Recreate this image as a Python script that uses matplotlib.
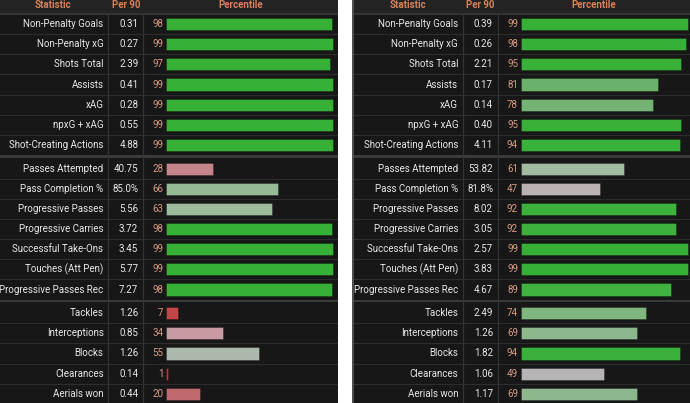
import matplotlib
matplotlib.use("Agg")
import matplotlib.pyplot as plt
from matplotlib.colors import LinearSegmentedColormap

plt.rcParams['font.family'] = ['Roboto', 'DejaVu Sans']

# ---------------------------------------------------------------- data
stats = ["Non-Penalty Goals", "Non-Penalty xG", "Shots Total", "Assists", "xAG",
         "npxG + xAG", "Shot-Creating Actions",
         "Passes Attempted", "Pass Completion %", "Progressive Passes",
         "Progressive Carries", "Successful Take-Ons", "Touches (Att Pen)",
         "Progressive Passes Rec",
         "Tackles", "Interceptions", "Blocks", "Clearances", "Aerials won"]

left_per90 = ["0.31", "0.27", "2.39", "0.41", "0.28", "0.55", "4.88",
              "40.75", "85.0%", "5.56", "3.72", "3.45", "5.77", "7.27",
              "1.26", "0.85", "1.26", "0.14", "0.44"]
left_pct = [98, 99, 97, 99, 99, 99, 99,
            28, 66, 63, 98, 99, 99, 98,
            7, 34, 55, 1, 20]

right_per90 = ["0.39", "0.26", "2.21", "0.17", "0.14", "0.40", "4.11",
               "53.82", "81.8%", "8.02", "3.05", "2.57", "3.83", "4.67",
               "2.49", "1.26", "1.82", "1.06", "1.17"]
right_pct = [99, 98, 95, 81, 78, 95, 94,
             61, 47, 92, 92, 99, 99, 89,
             74, 69, 94, 49, 69]

headers = ["Statistic", "Per 90", "Percentile"]
section_starts = [0, 7, 14]

# ---------------------------------------------------------------- layout (panel pixels)
W, H = 690, 403
HEAD = 14
PITCH = 20.15
SEP = 3.5
LABEL_R, V1, VAL_R, V2, PCT_R, BAR0, SCALE = 108.7, 111, 143, 146, 166, 168.7, 1.69
PANEL_W = 338

BG = '#171717'
HEAD_BG = '#232323'
GRID = '#2d2d2d'
TXT = '#e8e8e8'
HEAD_TXT = '#d9805a'
PCT_TXT = '#d99a84'

pct_cmap = LinearSegmentedColormap.from_list("pct", [
    (0.00, '#c03538'), (0.20, '#c0696e'), (0.34, '#c89aa2'),
    (0.50, '#b6b6b6'), (0.62, '#a0bca0'), (0.75, '#7db57d'),
    (0.84, '#62b062'), (0.89, '#3fb23f'), (1.00, '#35b035')])


def section(i):
    return sum(1 for s in section_starts[1:] if i >= s)


def row_top(i):
    return HEAD + i * PITCH + section(i) * SEP


def draw_panel(ax, per90, pct, x_shift):
    ax.set_xlim(x_shift, x_shift + PANEL_W)
    ax.set_ylim(H, 0)
    ax.set_facecolor(BG)
    ax.axis('off')
    ax.axhspan(0, HEAD, color=HEAD_BG, zorder=0)
    ax.axhspan(HEAD, H, color=BG, zorder=0)

    ys = [row_top(i) + PITCH / 2 for i in range(len(stats))]

    # row lines
    for i in range(len(stats)):
        if i in section_starts[1:]:
            ax.axhspan(row_top(i) - SEP, row_top(i) - 0.8, color='#3a3a3a', lw=0, zorder=1)
        elif i > 0:
            ax.axhline(row_top(i), color=GRID, lw=0.8, zorder=1)
    ax.axhline(HEAD, color='#3a3a3a', lw=1.2, zorder=1)
    ax.vlines([V1, V2], HEAD, H, color='#343434', lw=0.9, zorder=1)

    # header
    ax.text(V1 / 2, 4.5, headers[0], color=HEAD_TXT, fontsize=7, fontweight='bold',
            ha='center', va='center')
    ax.text((V1 + V2) / 2, 4.5, headers[1], color=HEAD_TXT, fontsize=7, fontweight='bold',
            ha='center', va='center')
    ax.text((V2 + x_shift + PANEL_W) / 2, 4.5, headers[2], color=HEAD_TXT, fontsize=7,
            fontweight='bold', ha='center', va='center')

    colors = [pct_cmap(p / 100) for p in pct]
    ax.barh(ys, [p * SCALE for p in pct], left=BAR0, height=PITCH * 0.6,
            color=colors, edgecolor=(0, 0, 0, 0.3), linewidth=0.6, zorder=2)

    for y, name, v, p in zip(ys, stats, per90, pct):
        ax.text(LABEL_R - 2.5, y, name, color=TXT, fontsize=7, ha='right', va='center')
        ax.text(VAL_R - 2, y, v, color=TXT, fontsize=7, ha='right', va='center')
        ax.text(PCT_R, y, str(p), color=PCT_TXT, fontsize=7, ha='right', va='center')


fig = plt.figure(figsize=(W / 100, H / 100), dpi=100, facecolor='white')

ax_left = fig.add_axes([0, 0, PANEL_W / W, 1])
draw_panel(ax_left, left_per90, left_pct, 2.7)

ax_right = fig.add_axes([352 / W, 0, PANEL_W / W, 1])
draw_panel(ax_right, right_per90, right_pct, 0)
ax_right.axvline(0.8, color='#5a5a5a', lw=1.2, zorder=3)

fig.savefig("out.png", dpi=100, facecolor='white')
